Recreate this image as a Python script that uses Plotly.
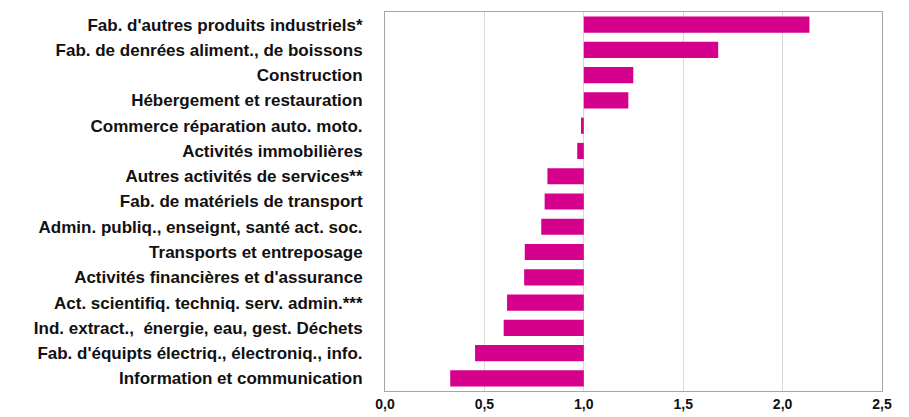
import plotly.graph_objects as go

_FONT = "Liberation Sans, Arial, sans-serif"
BAR_COLOR = "#D5008B"

sectors = [
    "Fab. d'autres produits industriels*",
    "Fab. de denrées aliment., de boissons",
    "Construction",
    "Hébergement et restauration",
    "Commerce réparation auto. moto.",
    "Activités immobilières",
    "Autres activités de services**",
    "Fab. de matériels de transport",
    "Admin. publiq., enseignt, santé act. soc.",
    "Transports et entreposage",
    "Activités financières et d'assurance",
    "Act. scientifiq. techniq. serv. admin.***",
    "Ind. extract.,  énergie, eau, gest. Déchets",
    "Fab. d'équipts électriq., électroniq., info.",
    "Information et communication",
]
ratios = [2.135, 1.676, 1.249, 1.224, 0.986, 0.967, 0.817, 0.803, 0.786,
          0.703, 0.700, 0.614, 0.597, 0.453, 0.328]
baseline = 1.0

fig = go.Figure(
    go.Bar(
        y=sectors,
        x=[r - baseline for r in ratios],
        base=baseline,
        orientation="h",
        marker=dict(color=BAR_COLOR, line_width=0),
        customdata=ratios,
        hovertemplate="%{y}: %{customdata:.2f}<extra></extra>",
    )
)

# page body adds an 8px offset, so the figure is a bit smaller than the window
fig.update_layout(
    width=901,
    height=409,
    font=dict(family=_FONT, color="#111111"),
    plot_bgcolor="white",
    paper_bgcolor="white",
    separators=", ",
    bargap=0.36,
    showlegend=False,
    margin=dict(l=377, r=27, t=4, b=26),
)
fig.update_xaxes(
    range=[0, 2.5],
    dtick=0.5,
    tickformat=".1f",
    showgrid=True,
    gridcolor="#D9D9D9",
    gridwidth=1,
    zeroline=False,
    showline=True,
    mirror=True,
    linecolor="#A6A6A6",
    linewidth=1,
    tickfont=dict(size=14, family=_FONT, weight="bold"),
    ticklabelstandoff=0,
)
fig.update_yaxes(
    autorange="reversed",
    showgrid=False,
    showline=True,
    mirror=True,
    linecolor="#A6A6A6",
    linewidth=1,
    tickfont=dict(size=17, family=_FONT, weight="bold"),
    ticklabelstandoff=18,
)

fig.write_html("out.html")
